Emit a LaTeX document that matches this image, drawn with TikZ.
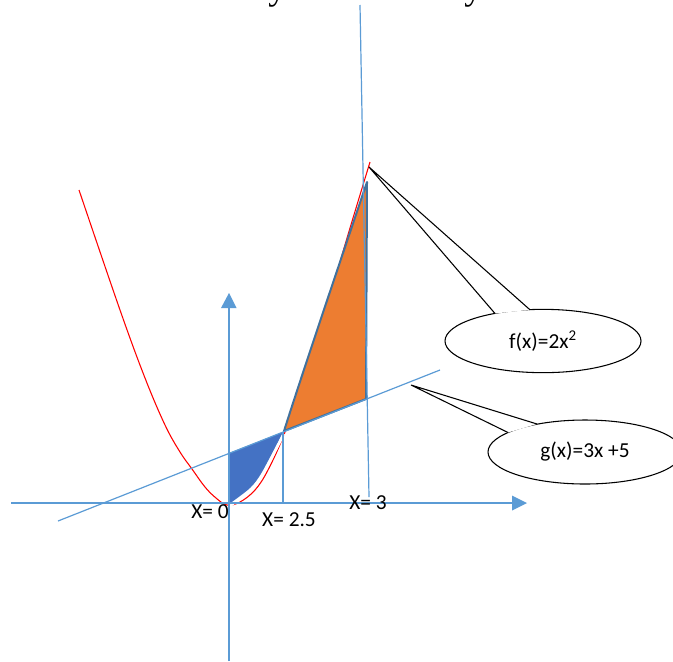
\documentclass[tikz,border=0pt]{standalone}
\usepackage{fontspec}
\setmainfont{Carlito}
\newfontfamily\serifyy{Liberation Serif}
\usetikzlibrary{shapes.geometric}
\definecolor{axisblue}{HTML}{5B9BD5}
\definecolor{fillblue}{HTML}{4472C4}
\definecolor{edgeblue}{HTML}{41719C}
\definecolor{fillorange}{HTML}{ED7D31}
\tikzset{
  axis/.style={draw=axisblue, line width=2.2pt},
  thinline/.style={draw=axisblue, line width=0.9pt},
  tipfill/.style={fill=axisblue, draw=none},
  lbl/.style={font=\fontsize{16}{19}\selectfont, inner sep=0pt},
  callout/.style={ellipse, draw=black, fill=white, line width=0.8pt, inner sep=0pt,
    font=\fontsize{16}{19}\selectfont},
  wedge/.style={draw=black, line width=0.8pt},
}
\begin{document}
\begin{tikzpicture}[x=0.75pt,y=-0.75pt]
\useasboundingbox (0,0) rectangle (673,661);
% partial glyphs at top edge
\node[anchor=base west, inner sep=0pt, font=\serifyy\fontsize{27}{30}\selectfont] (ya) at (268,-1) {y};
\node[anchor=base west, inner sep=0pt, font=\serifyy\fontsize{27}{30}\selectfont] (yb) at (464,-1) {y};
% coordinates
\coordinate (xl) at (11,503);
\coordinate (xr) at (512,503);
\coordinate (xt) at (527,503);
\coordinate (yb0) at (229,661);
\coordinate (yt0) at (229,308);
\coordinate (ytip) at (229,293);
\coordinate (g0) at (58,521);
\coordinate (g1) at (440,370);
\coordinate (v3top) at (360,5);
\coordinate (v3bot) at (369,497);
\coordinate (v25top) at (283,432);
\coordinate (v25bot) at (283,503);
% red parabola
\draw[red, line width=0.8pt] plot[smooth, tension=0.6] coordinates {(79,190) (120,310) (145,378) (165,425) (180,452) (192,469) (205,487) (216,498) (227,505) (240,502) (255,490) (268,470) (285,432) (305,372) (330,295) (350,228) (370,162)};
% orange region
\filldraw[fill=fillorange, draw=edgeblue, line width=1.5pt, line join=round]
  (284,431) .. controls (305,365) and (340,262) .. (367,182) -- (366,399) -- cycle;
% blue region
\fill[fillblue] (229,453) -- (229,504) -- plot[smooth] coordinates {(229,504) (250,488) (262,472) (283,432)} -- cycle;
\draw[white, line width=1.8pt] plot[smooth] coordinates {(230,506) (251,490) (263,474) (284,434)};
% thin lines
\draw[thinline] (g0) -- (g1);
\draw[thinline] (v3top) -- (v3bot);
\draw[thinline] (v25top) -- (v25bot);
% axes
\draw[axis] (xl) -- (xr);
\fill[tipfill] (xt) -- (512,495.5) -- (512,510.5) -- cycle;
\draw[axis] (yb0) -- (yt0);
\fill[tipfill] (ytip) -- (221,308) -- (236.5,308) -- cycle;
% labels
\node[lbl] (l0) at (210,512) {X= 0};
\node[lbl] (l25) at (289,520) {X= 2.5};
\node[lbl] (l3) at (368,503) {X= 3};
% callout f
\node[callout, minimum width=147pt, minimum height=47.5pt] (fbox) at (543,341) {f(x)=2x\textsuperscript{2}};
\coordinate (ftip) at (369,167);
\coordinate (fp1) at (495,313.5);
\coordinate (fp2) at (530,309.8);
\fill[white] (ftip) -- (fp1) -- (fp2) -- cycle;
\draw[wedge] (fp1) -- (ftip) -- (fp2);
% callout g
\node[callout, minimum width=145.5pt, minimum height=48pt] (gbox) at (585,452) {g(x)=3x +5};
\coordinate (gtip) at (411,385);
\coordinate (gp1) at (508,432.5);
\coordinate (gp2) at (537,424);
\fill[white] (gtip) -- (gp1) -- (gp2) -- cycle;
\draw[wedge] (gp1) -- (gtip) -- (gp2);
\end{tikzpicture}
\end{document}
